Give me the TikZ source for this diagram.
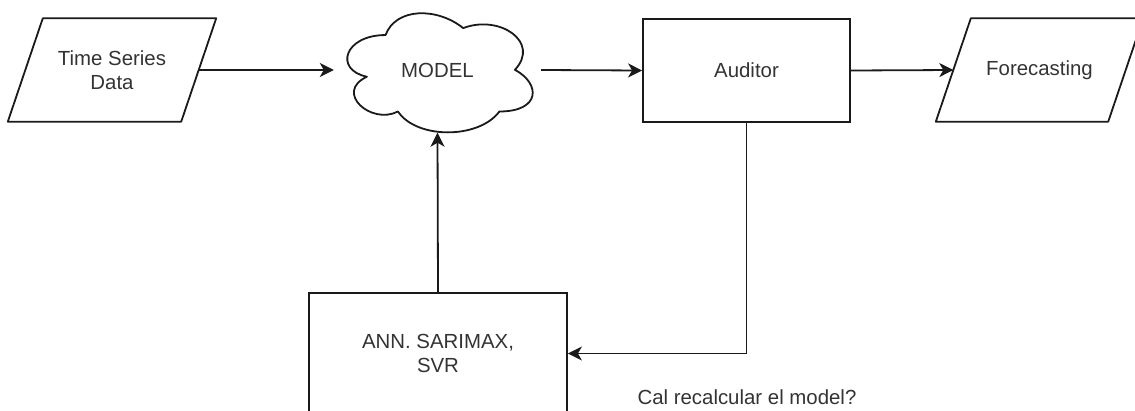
\documentclass[tikz,border=0pt]{standalone}
\usepackage{fontspec}
\setmainfont{Liberation Sans}
\usetikzlibrary{arrows.meta,calc}
\definecolor{txt}{HTML}{333333}
\definecolor{ln}{HTML}{1A1A1A}
\begin{document}
\begin{tikzpicture}[x=1pt,y=-1pt,
  lbl/.style={font=\fontsize{20.4}{24}\selectfont, text=txt, align=center, inner sep=0pt},
  box/.style={draw=ln, line width=1.8pt, minimum width=207pt, minimum height=103pt, inner sep=0pt},
  conn/.style={draw=ln, line width=1.8pt, -{Stealth[length=14pt,width=14pt,inset=4pt]}},
  shp/.style={draw=ln, line width=1.8pt, line join=round}
]
\clip (0,0) rectangle (1135,410);
\useasboundingbox (0,0) rectangle (1135,410);

% Time Series Data (parallelogram)
\node[lbl, minimum width=173pt, minimum height=103pt] (tsd) at (112,70) {Time Series\\Data};
\draw[shp] ($(tsd.north west)+(17.5,0)$) -- ($(tsd.north east)+(17.5,0)$) -- ($(tsd.south east)-(17.5,0)$) -- ($(tsd.south west)-(17.5,0)$) -- cycle;

% MODEL (cloud)
\node[lbl, minimum width=207pt, minimum height=139pt] (cloud) at (437.5,70) {MODEL};
\draw[shp, shift={(cloud.north west)}, x=207pt, y=-139pt]
  (0.25,0.25) .. controls (0.05,0.25) and (0,0.5) .. (0.16,0.55)
  .. controls (0,0.66) and (0.18,0.9) .. (0.31,0.8)
  .. controls (0.4,1) and (0.7,1) .. (0.8,0.8)
  .. controls (1,0.8) and (1,0.6) .. (0.875,0.5)
  .. controls (1,0.3) and (0.8,0.1) .. (0.625,0.2)
  .. controls (0.5,0.05) and (0.3,0.05) .. (0.25,0.25) -- cycle;

% Auditor
\node[box, lbl] (aud) at (746.5,70.5) {Auditor};

% Forecasting (parallelogram)
\node[lbl, minimum width=172pt, minimum height=103pt] (fore) at (1039.5,70) {Forecasting};
\draw[shp] ($(fore.north west)+(17.5,0)$) -- ($(fore.north east)+(17.5,0)$) -- ($(fore.south east)-(17.5,0)$) -- ($(fore.south west)-(17.5,0)$) -- cycle;

% ANN box
\node[box, lbl, minimum width=258pt, minimum height=121pt] (ann) at (438,353.5) {ANN. SARIMAX,\\SVR};

% question label
\node[lbl, anchor=base] (q) at (747,404) {Cal recalcular el model?};

% connectors
\draw[conn] (tsd.east) -- (cloud.west);
\draw[conn] (cloud.east) -- (aud.west);
\draw[conn] (aud.east) -- (fore.west);
\draw[conn] (ann.north) -- ([yshift=7pt]cloud.south);
\draw[conn] (aud.south) |- (ann.east);
\end{tikzpicture}
\end{document}
